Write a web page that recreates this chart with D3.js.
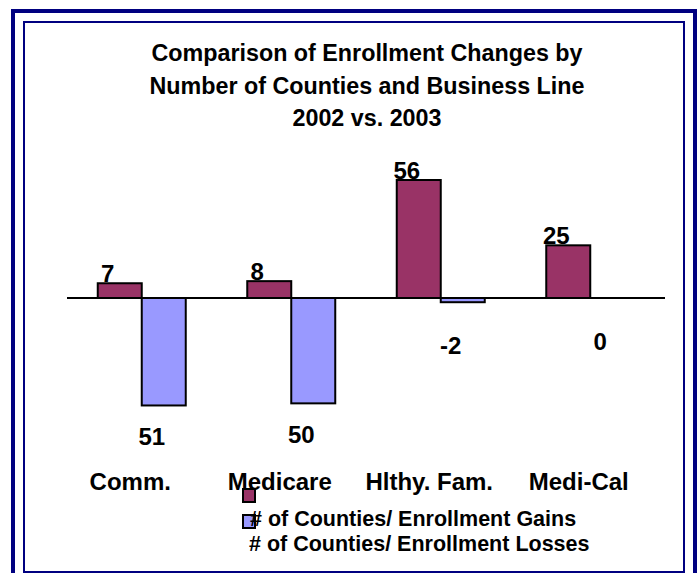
<!DOCTYPE html>
<html>
<head>
<meta charset="utf-8">
<script src="https://cdn.jsdelivr.net/npm/d3@7/dist/d3.min.js"></script>
<style>
  html, body { margin: 0; padding: 0; background: #fff; }
  svg { display: block; }
  text { font-family: "Liberation Sans", Arial, sans-serif; font-weight: bold; fill: #000; }
</style>
</head>
<body>
<svg id="chart" width="698" height="573"></svg>
<script>
const titleLines = ["Comparison of Enrollment Changes by", "Number of Counties and Business Line", "2002 vs. 2003"];
const categories = ["Comm.", "Medicare", "Hlthy. Fam.", "Medi-Cal"];
const seriesNames = ["# of Counties/ Enrollment Gains", "# of Counties/ Enrollment Losses"];
const gains = [7, 8, 56, 25];
const losses = [-51, -50, -2, 0];
const seriesColors = ["#993366", "#9999FF"];

const svg = d3.select("#chart");

// frames
svg.append("rect").attr("x", 13).attr("y", 11).attr("width", 682).attr("height", 580)
  .attr("fill", "none").attr("stroke", "#000080").attr("stroke-width", 4);
svg.append("rect").attr("x", 24).attr("y", 22).attr("width", 660).attr("height", 550)
  .attr("fill", "none").attr("stroke", "#000080").attr("stroke-width", 2);

// title
svg.append("g").selectAll("text").data(titleLines).join("text")
  .attr("x", 367).attr("y", (d, i) => 61 + i * 32.5)
  .attr("text-anchor", "middle").style("font-size", "23.3px")
  .text(d => d);

const x = d3.scaleBand().domain(categories).range([67, 665]).paddingInner(0).paddingOuter(0);
const groupW = 88;
const xs = d3.scaleBand().domain([0, 1]).range([0, groupW]);
const y = d3.scaleLinear().domain([-56, 56]).range([416, 180]);

const series = [gains, losses];
const bars = [];
series.forEach((vals, si) => {
  vals.forEach((v, ci) => bars.push({ si, ci, v, cat: categories[ci] }));
});

const gx = c => x(c) + (x.bandwidth() - groupW) / 2;

// bars
svg.append("g").selectAll("rect").data(bars.filter(d => d.v !== 0)).join("rect")
  .attr("x", d => gx(d.cat) + xs(d.si))
  .attr("width", xs.bandwidth())
  .attr("y", d => Math.min(y(d.v), y(0)))
  .attr("height", d => Math.abs(y(d.v) - y(0)))
  .attr("fill", d => seriesColors[d.si])
  .attr("stroke", "#000").attr("stroke-width", 2);

// zero line
svg.append("line").attr("x1", x.range()[0]).attr("x2", x.range()[1])
  .attr("y1", y(0)).attr("y2", y(0)).attr("stroke", "#000").attr("stroke-width", 2);

// data labels
svg.append("g").selectAll("text").data(bars).join("text")
  .attr("x", d => gx(d.cat) + xs(d.si) + xs.bandwidth() / 2 - 12)
  .attr("y", d => d.si === 0 ? y(d.v) - 1 : y(d.v) + (Math.abs(d.v) > 10 ? 40 : 52))
  .attr("text-anchor", "middle").style("font-size", "24px")
  .text(d => d.si === 0 ? d.v : (Math.abs(d.v) > 10 ? Math.abs(d.v) : d.v));

// category labels
svg.append("g").selectAll("text").data(categories).join("text")
  .attr("x", d => x(d) + x.bandwidth() / 2 - 11.5)
  .attr("y", 490)
  .attr("text-anchor", "middle").style("font-size", "24px")
  .text(d => d);

// legend
const lg = svg.append("g");
lg.selectAll("rect").data(seriesNames).join("rect")
  .attr("x", 243).attr("y", (d, i) => 489 + i * 26)
  .attr("width", 12).attr("height", 13)
  .attr("fill", (d, i) => seriesColors[i]).attr("stroke", "#000").attr("stroke-width", 2);
lg.selectAll("text").data(seriesNames).join("text")
  .attr("x", (d, i) => 250 - i).attr("y", (d, i) => 526 + i * 25)
  .style("font-size", "21.5px")
  .text(d => d);
</script>
</body>
</html>
